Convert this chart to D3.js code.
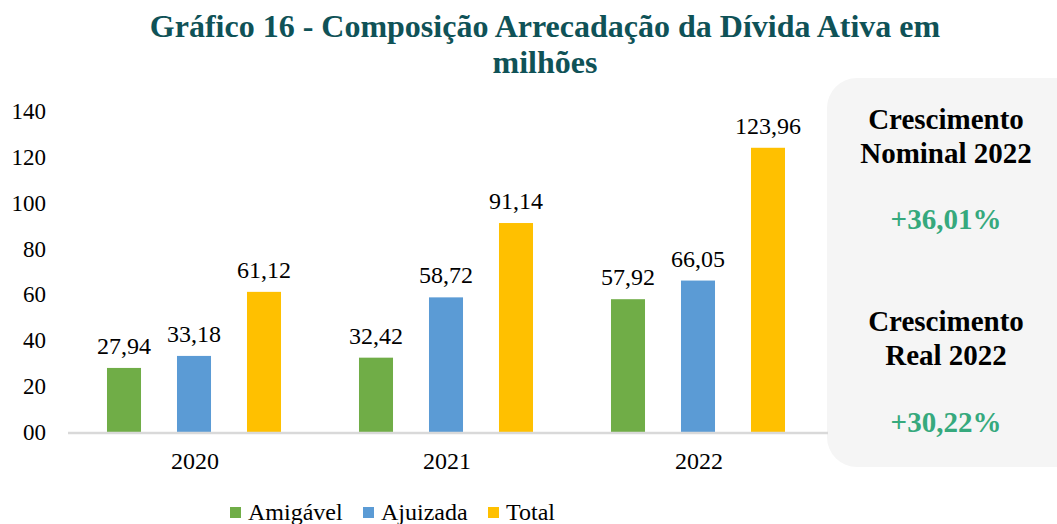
<!DOCTYPE html>
<html>
<head>
<meta charset="utf-8">
<script src="https://cdn.jsdelivr.net/npm/d3@7"></script>
<style>
  body { margin: 0; background: #fff; }
  svg text { font-family: "Liberation Serif", "Times New Roman", serif; }
</style>
</head>
<body>
<div id="chart"></div>
<script>
// data
const years = ["2020", "2021", "2022"];
const seriesNames = ["Amigável", "Ajuizada", "Total"];
const amigavel = [27.94, 32.42, 57.92];
const ajuizada = [33.18, 58.72, 66.05];
const total = [61.12, 91.14, 123.96];
const yTicks = [0, 20, 40, 60, 80, 100, 120, 140];
const yTickLabels = ["00", "20", "40", "60", "80", "100", "120", "140"];
const titleLines = ["Gráfico 16 - Composição Arrecadação da Dívida Ativa em", "milhões"];
const panelLines = [
    { text: "Crescimento", kind: "head" },
    { text: "Nominal 2022", kind: "head" },
    { text: "+36,01%", kind: "pct" },
    { text: "Crescimento", kind: "head" },
    { text: "Real 2022", kind: "head" },
    { text: "+30,22%", kind: "pct" }
];

const colors = ["#70ad47", "#5b9bd5", "#ffc000"];
const W = 1057, H = 524;

const svg = d3.select("#chart").append("svg")
    .attr("width", W)
    .attr("height", H);

// title
svg.append("g").selectAll("text")
    .data(titleLines)
    .enter().append("text")
    .attr("x", 545)
    .attr("y", function (d, i) { return 37 + i * 36; })
    .attr("text-anchor", "middle")
    .attr("font-size", 32)
    .attr("font-weight", "bold")
    .attr("fill", "#0f5257")
    .text(function (d) { return d; });

// grey panel on the right
const panel = svg.append("g");
panel.append("rect")
    .attr("x", 827)
    .attr("y", 78)
    .attr("width", 260)
    .attr("height", 389)
    .attr("rx", 30)
    .attr("fill", "#f5f5f5");

const panelY = [129, 163, 229, 331, 365, 432];
panel.selectAll("text")
    .data(panelLines)
    .enter().append("text")
    .attr("x", 946)
    .attr("y", function (d, i) { return panelY[i]; })
    .attr("text-anchor", "middle")
    .attr("font-size", 29)
    .attr("font-weight", "bold")
    .attr("fill", function (d) { return d.kind === "pct" ? "#36a97d" : "#000"; })
    .text(function (d) { return d.text; });

// scales
const x0 = d3.scaleBand()
    .domain(years)
    .range([69, 825])
    .padding(0);

const x1 = d3.scaleBand()
    .domain(seriesNames)
    .range([20, 230])
    .paddingInner(0.514)
    .paddingOuter(0.257);

const y = d3.scaleLinear()
    .domain([0, 140])
    .range([432, 111]);

// y axis labels
svg.append("g").selectAll("text")
    .data(yTicks)
    .enter().append("text")
    .attr("x", 46)
    .attr("y", function (d) { return y(d) + 8; })
    .attr("text-anchor", "end")
    .attr("font-size", 23)
    .attr("fill", "#000")
    .text(function (d, i) { return yTickLabels[i]; });

const rows = years.map(function (yr, i) {
    return { year: yr, values: [amigavel[i], ajuizada[i], total[i]] };
});

const groups = svg.append("g").selectAll("g")
    .data(rows)
    .enter().append("g")
    .attr("transform", function (d) { return "translate(" + x0(d.year) + ",0)"; });

groups.selectAll("rect")
    .data(function (d) { return d.values; })
    .enter().append("rect")
    .attr("x", function (d, i) { return x1(seriesNames[i]); })
    .attr("y", function (d) { return y(d); })
    .attr("width", x1.bandwidth())
    .attr("height", function (d) { return y(0) - y(d); })
    .attr("fill", function (d, i) { return colors[i]; });

groups.selectAll("text")
    .data(function (d) { return d.values; })
    .enter().append("text")
    .attr("x", function (d, i) { return x1(seriesNames[i]) + x1.bandwidth() / 2; })
    .attr("y", function (d) { return y(d) - 14; })
    .attr("text-anchor", "middle")
    .attr("font-size", 24)
    .attr("fill", "#000")
    .text(function (d) { return d3.format(".2f")(d).replace(".", ","); });

// x axis line (drawn over bar bottoms) and year labels
svg.append("line")
    .attr("x1", 68)
    .attr("x2", 828)
    .attr("y1", y(0) + 1)
    .attr("y2", y(0) + 1)
    .attr("stroke", "#d9d9d9")
    .attr("stroke-width", 2.5);

svg.append("g").selectAll("text")
    .data(years)
    .enter().append("text")
    .attr("x", function (d) { return x0(d) + x0.bandwidth() / 2; })
    .attr("y", 469)
    .attr("text-anchor", "middle")
    .attr("font-size", 24)
    .attr("fill", "#000")
    .text(function (d) { return d; });

// legend
const legendX = [230, 363, 488];
const legend = svg.append("g").selectAll("g")
    .data(seriesNames)
    .enter().append("g")
    .attr("transform", function (d, i) { return "translate(" + legendX[i] + ",507)"; });

legend.append("rect")
    .attr("width", 11)
    .attr("height", 11)
    .attr("fill", function (d, i) { return colors[i]; });

legend.append("text")
    .attr("x", 18)
    .attr("y", 13)
    .attr("font-size", 24)
    .attr("fill", "#000")
    .text(function (d) { return d; });
</script>
</body>
</html>
